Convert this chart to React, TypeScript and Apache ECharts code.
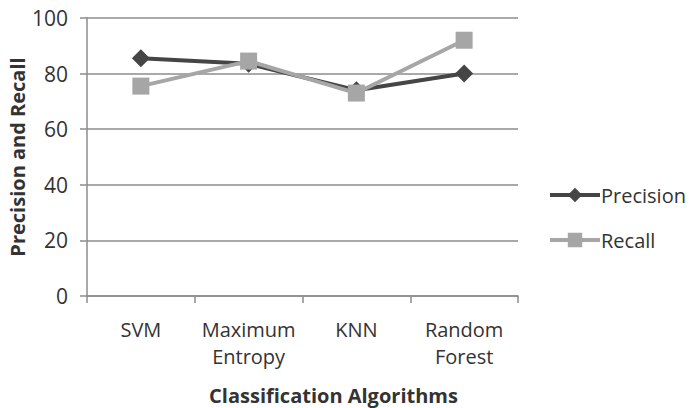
import React, { useEffect, useRef } from "react";
import * as echarts from "echarts";

const categories = ["SVM", "Maximum\nEntropy", "KNN", "Random\nForest"];
const precision = [85.5, 83.5, 74, 80];
const recall = [75.5, 84.5, 73, 92];
const yTicks = { min: 0, max: 100, interval: 20 };

const FONT = "'Open Sans', 'Noto Sans', sans-serif";

export default function App() {
  const ref = useRef<HTMLDivElement>(null);
  useEffect(() => {
    if (!ref.current) return;
    const chart = echarts.init(ref.current, null, { renderer: "svg" });
    chart.setOption({
      animation: false,
      backgroundColor: "#ffffff",
      textStyle: { fontFamily: FONT },
      grid: { left: 87, right: 171, top: 18, bottom: 112, containLabel: false, outerBoundsMode: "none" },
      legend: {
        orient: "vertical",
        left: 543,
        top: 180,
        itemWidth: 50,
        itemHeight: 18,
        itemGap: 25,
        lineStyle: { width: 4 },
        textStyle: { fontFamily: FONT, fontSize: 20, color: "#333", padding: [0, 0, 0, -4] },
        data: ["Precision", "Recall"],
      },
      xAxis: {
        type: "category",
        data: categories,
        boundaryGap: true,
        name: "Classification Algorithms",
        nameLocation: "middle",
        nameGap: 89,
        nameMoveOverlap: false,
        nameTextStyle: { fontFamily: FONT, fontSize: 20, fontWeight: "bold", color: "#333", padding: [0, 0, 0, 62] },
        axisLine: { lineStyle: { color: "#8c8c8c", width: 1.5 } },
        axisTick: { show: true, length: 7, lineStyle: { color: "#8c8c8c", width: 1.5 } },
        axisLabel: { interval: 0, fontFamily: FONT, fontSize: 20, color: "#333", margin: 20, lineHeight: 27 },
        splitLine: { show: false },
      },
      yAxis: {
        type: "value",
        min: yTicks.min,
        max: yTicks.max,
        interval: yTicks.interval,
        name: "Precision and Recall",
        nameLocation: "middle",
        nameGap: 60,
        nameMoveOverlap: false,
        nameTextStyle: { fontFamily: FONT, fontSize: 20, fontWeight: "bold", color: "#333" },
        axisLine: { show: true, lineStyle: { color: "#8c8c8c", width: 1.5 } },
        axisTick: { show: true, length: 7, lineStyle: { color: "#8c8c8c", width: 1.5 } },
        axisLabel: { fontFamily: FONT, fontSize: 21, color: "#333", margin: 19 },
        splitLine: { show: true, lineStyle: { color: "#8c8c8c", width: 1.5 } },
      },
      series: [
        {
          name: "Precision",
          type: "line",
          data: precision,
          symbol: "diamond",
          symbolSize: 18,
          lineStyle: { color: "#454545", width: 4 },
          itemStyle: { color: "#454545" },
          z: 2,
        },
        {
          name: "Recall",
          type: "line",
          data: recall,
          symbol: "rect",
          symbolSize: 17,
          lineStyle: { color: "#a6a6a6", width: 4 },
          itemStyle: { color: "#a6a6a6" },
          z: 3,
        },
      ],
    });
    return () => chart.dispose();
  }, []);
  return <div ref={ref} style={{ width: 689, height: 408, position: "absolute", left: 0, top: 0 }} />;
}
